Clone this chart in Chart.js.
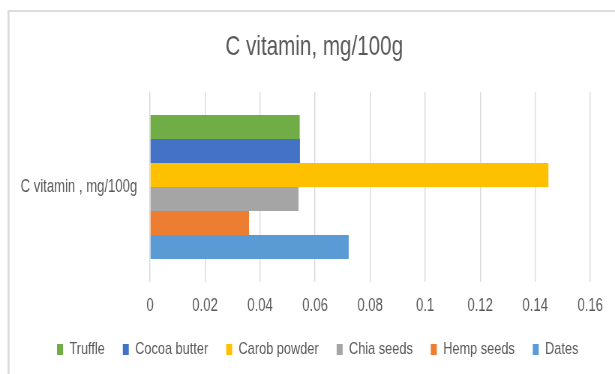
<!DOCTYPE html>
<html>
<head>
<meta charset="utf-8">
<title>C vitamin, mg/100g</title>
<script src="https://cdn.jsdelivr.net/npm/chart.js@4/dist/chart.umd.min.js"></script>
<style>
  html, body { margin: 0; padding: 0; overflow: hidden; background: #ffffff; }
  #wrap { width: 615px; height: 374px; overflow: hidden; }
  /* the chart is laid out on a wider canvas and narrowed horizontally */
  #chart { display: block; transform: scaleX(0.75); transform-origin: 0 0; }
</style>
</head>
<body>
<div id="wrap"><canvas id="chart" width="820" height="374" style="width:820px;height:374px"></canvas></div>
<script>
// ---- data ----
const categories = ['C vitamin , mg/100g'];
const seriesNames = ['Truffle', 'Cocoa butter', 'Carob powder', 'Chia seeds', 'Hemp seeds', 'Dates'];
const truffle     = [0.0544];
const cocoaButter = [0.0545];
const carobPowder = [0.1448];
const chiaSeeds   = [0.0540];
const hempSeeds   = [0.0360];
const dates       = [0.0722];
const tickValues  = [0, 0.02, 0.04, 0.06, 0.08, 0.1, 0.12, 0.14, 0.16];
const tickLabels  = ['0', '0.02', '0.04', '0.06', '0.08', '0.1', '0.12', '0.14', '0.16'];

// ---- styling ----
const seriesColors = ['#70AD47', '#4472C4', '#FFC000', '#A5A5A5', '#ED7D31', '#5B9BD5'];
const seriesValues = [truffle, cocoaButter, carobPowder, chiaSeeds, hempSeeds, dates];
const TEXT = '#595959';
const GRID = '#d9d9d9';
const TITLE_CENTER_X = 419;   // canvas units
const LEGEND_START_X = 76;    // canvas units

Chart.defaults.font.family = '"Liberation Sans", Arial, sans-serif';
Chart.defaults.color = TEXT;

const frameAndPlacement = {
  id: 'frameAndPlacement',
  afterLayout(chart) {
    const t = chart.titleBlock;
    if (t) {
      const dx = TITLE_CENTER_X - (t.left + t.right) / 2;
      t.left += dx; t.right += dx;
    }
    const lg = chart.legend;
    if (lg && lg.lineWidths) {
      const pad = lg.options.labels.padding;
      const start = (lg.left + pad + lg.right - lg.lineWidths[0]) / 2;
      const dx = LEGEND_START_X - start;
      lg.left += dx; lg.right += dx;
    }
  },
  beforeDraw(chart) {
    const ctx = chart.ctx;
    ctx.save();
    ctx.fillStyle = '#dcdcdc';
    ctx.fillRect(10, 10, chart.width, 2);
    ctx.fillRect(10, 10, 2.7, chart.height);
    ctx.restore();
  }
};

new Chart(document.getElementById('chart'), {
  type: 'bar',
  data: {
    labels: categories,
    datasets: seriesNames.map((name, i) => ({
      label: name,
      data: seriesValues[i],
      backgroundColor: seriesColors[i],
      borderWidth: 0,
      barPercentage: 1.0,
      categoryPercentage: 0.758
    }))
  },
  options: {
    indexAxis: 'y',
    responsive: false,
    animation: false,
    devicePixelRatio: 1,
    layout: { padding: { left: 0, right: 33, top: 0, bottom: 6 } },
    plugins: {
      title: {
        display: true,
        text: 'C vitamin, mg/100g',
        color: TEXT,
        font: { size: 27.5, weight: 'normal' },
        padding: { top: 31, bottom: 28 }
      },
      legend: {
        position: 'bottom',
        labels: {
          color: TEXT,
          font: { size: 17 },
          boxWidth: 8,
          boxHeight: 11,
          padding: 24
        }
      },
      tooltip: { enabled: false }
    },
    scales: {
      x: {
        min: tickValues[0],
        max: tickValues[tickValues.length - 1],
        afterBuildTicks(scale) { scale.ticks = tickValues.map(v => ({ value: v })); },
        afterFit(scale) { scale.height = 35; },
        ticks: {
          color: TEXT,
          font: { size: 17.5 },
          padding: 14,
          callback: (v, i) => tickLabels[i]
        },
        grid: { color: GRID, lineWidth: 1.4, drawTicks: false },
        border: { display: false }
      },
      y: {
        afterFit(scale) { scale.width = 200; },
        ticks: { color: TEXT, font: { size: 17.5 }, padding: 17 },
        grid: { display: false, drawTicks: false },
        border: { display: false }
      }
    }
  },
  plugins: [frameAndPlacement]
});
</script>
</body>
</html>
